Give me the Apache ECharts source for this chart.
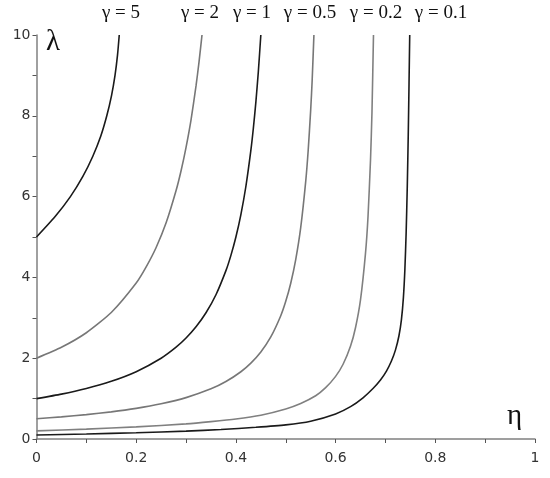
<!DOCTYPE html>
<html>
<head>
<meta charset="utf-8">
<script src="https://cdn.jsdelivr.net/npm/echarts@6/dist/echarts.min.js"></script>
<style>
  html, body { margin: 0; padding: 0; background: #fff; }
  #chart { width: 550px; height: 478px; }
</style>
</head>
<body>
<div id="chart"></div>
<script>
// curve labels and [eta, lambda] points
const gammaLabels = ['γ = 5', 'γ = 2', 'γ = 1', 'γ = 0.5', 'γ = 0.2', 'γ = 0.1']

const curve5 = [[0, 5], [0.037, 5.5], [0.068, 6.0], [0.093, 6.5], [0.113, 7.0], [0.129, 7.5],
  [0.141, 8.0], [0.1505, 8.5], [0.1575, 9.0], [0.1625, 9.5], [0.166, 10]]
const curve2 = [[0, 2], [0.05, 2.27], [0.1, 2.63], [0.15, 3.13], [0.2, 3.86], [0.22, 4.26],
  [0.24, 4.74], [0.26, 5.35], [0.28, 6.15], [0.29, 6.64], [0.3, 7.22], [0.31, 7.9],
  [0.32, 8.74], [0.326, 9.33], [0.332, 10]]
const curve1 = [[0, 1], [0.05, 1.111], [0.1, 1.25], [0.15, 1.429], [0.2, 1.667], [0.25, 2],
  [0.28, 2.273], [0.3, 2.5], [0.32, 2.778], [0.34, 3.125], [0.36, 3.571], [0.38, 4.167],
  [0.39, 4.545], [0.4, 5], [0.41, 5.556], [0.42, 6.25], [0.43, 7.143], [0.435, 7.692],
  [0.44, 8.333], [0.445, 9.091], [0.45, 10]]
const curve05 = [[0, 0.5], [0.05, 0.547], [0.1, 0.603], [0.15, 0.672], [0.2, 0.759], [0.25, 0.872],
  [0.3, 1.024], [0.35, 1.241], [0.38, 1.422], [0.41, 1.665], [0.43, 1.878], [0.45, 2.154],
  [0.47, 2.526], [0.49, 3.052], [0.5, 3.407], [0.51, 3.855], [0.52, 4.44], [0.53, 5.23],
  [0.54, 6.37], [0.545, 7.14], [0.55, 8.14], [0.553, 8.88], [0.5565, 10]]
const curve02 = [[0, 0.2], [0.1, 0.245], [0.2, 0.3], [0.3, 0.375], [0.35, 0.43], [0.4, 0.495],
  [0.45, 0.59], [0.5, 0.745], [0.53, 0.88], [0.56, 1.07], [0.58, 1.27], [0.6, 1.55],
  [0.615, 1.85], [0.63, 2.3], [0.64, 2.76], [0.65, 3.45], [0.66, 4.6], [0.665, 5.5],
  [0.67, 6.9], [0.673, 8.1], [0.676, 10]]
const curve01 = [[0, 0.1], [0.1, 0.125], [0.2, 0.155], [0.3, 0.195], [0.37, 0.235], [0.44, 0.29],
  [0.5, 0.35], [0.55, 0.44], [0.6, 0.62], [0.63, 0.8], [0.655, 1.02], [0.675, 1.25],
  [0.69, 1.46], [0.702, 1.68], [0.712, 1.93], [0.72, 2.2], [0.727, 2.55], [0.732, 2.95],
  [0.736, 3.5], [0.739, 4.2], [0.7415, 5.1], [0.7437, 6.2], [0.7457, 7.5], [0.7473, 8.8],
  [0.7487, 10]]

const curves = [curve5, curve2, curve1, curve05, curve02, curve01]
const curveColors = ['#1a1a1a', '#777777', '#1a1a1a', '#777777', '#808080', '#1a1a1a']
const labelX = [121, 200, 252, 310, 376, 441]

const chart = echarts.init(document.getElementById('chart'))

const axisCommon = {
  axisLine: { show: true, lineStyle: { color: '#808080', width: 1.5 } },
  axisTick: { show: true, length: 4, lineStyle: { color: '#555', width: 1 } },
  splitLine: { show: false },
  axisLabel: { color: '#333', fontSize: 14, fontFamily: 'DejaVu Sans' },
}

chart.setOption({
  animation: false,
  backgroundColor: '#fff',
  grid: { left: 36.5, right: 15, top: 35, bottom: 39 },
  xAxis: {
    type: 'value', min: 0, max: 1, interval: 0.1,
    ...axisCommon,
    axisLabel: {
      ...axisCommon.axisLabel,
      margin: 12,
      formatter: v => {
        const k = Math.round(v * 10)
        return k % 2 === 0 ? String(k / 10) : ''
      },
    },
  },
  yAxis: {
    type: 'value', min: 0, max: 10, interval: 1,
    ...axisCommon,
    axisLabel: {
      ...axisCommon.axisLabel,
      margin: 6,
      formatter: v => (v % 2 === 0 ? String(v) : ''),
    },
  },
  graphic: [
    ...gammaLabels.map((t, i) => ({
      type: 'text', x: labelX[i], y: 4,
      style: {
        text: t, align: 'center', verticalAlign: 'top', fill: '#111',
        font: '19px "Liberation Serif", serif',
      },
    })),
    { type: 'text', x: 46, y: 28, style: { text: 'λ', fill: '#111', font: '29px "Liberation Serif", serif' } },
    { type: 'text', x: 507, y: 402, style: { text: 'η', fill: '#111', font: '29px "Liberation Serif", serif' } },
  ],
  series: curves.map((c, i) => ({
    name: gammaLabels[i],
    type: 'line',
    data: c,
    showSymbol: false,
    smooth: 0.2,
    clip: true,
    lineStyle: { color: curveColors[i], width: 1.6 },
  })),
})
</script>
</body>
</html>
